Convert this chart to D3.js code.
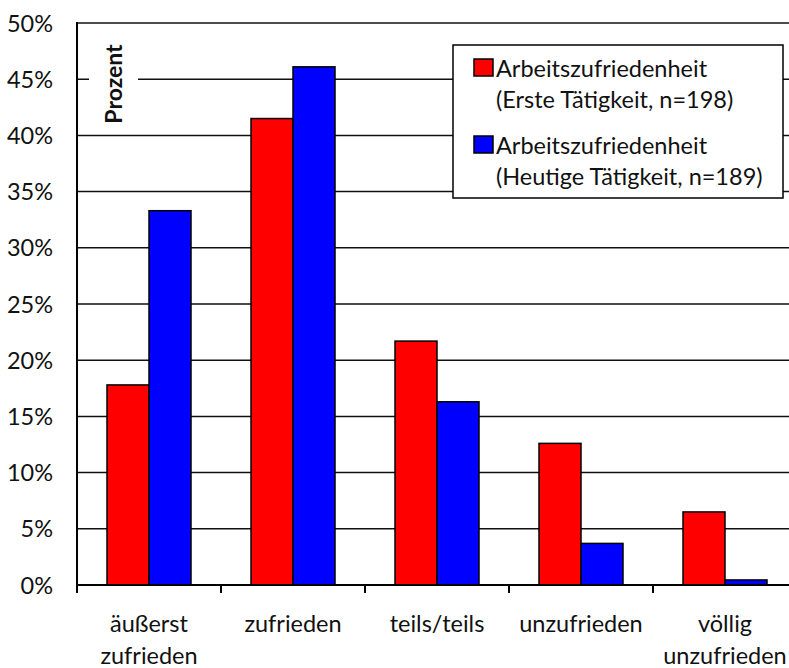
<!DOCTYPE html>
<html><head><meta charset="utf-8">
<script src="https://cdn.jsdelivr.net/npm/d3@7"></script>
<style>body{margin:0;background:#fff}svg{display:block}text{font-family:Lato,"Open Sans",sans-serif;fill:#111}</style>
</head><body><svg id="c" width="789" height="668"></svg>
<script>
const categories = [["äußerst","zufrieden"],["zufrieden"],["teils/teils"],["unzufrieden"],["völlig","unzufrieden"]];
const seriesNames = ["Arbeitszufriedenheit (Erste Tätigkeit, n=198)","Arbeitszufriedenheit (Heutige Tätigkeit, n=189)"];
const seriesColors = ["#ff0000","#0000ff"];
const erste = [17.8, 41.5, 21.7, 12.6, 6.5];
const heutige = [33.3, 46.1, 16.3, 3.7, 0.45];
const yTicks = [0,5,10,15,20,25,30,35,40,45,50];

const FS = "23.5px";
const svg = d3.select("#c");
const L = 77, T = 23, B = 585, bandW = 144;
const catIdx = categories.map((d,i)=>i);
const x0 = d3.scaleBand().domain(catIdx).range([L, L + bandW*categories.length]).padding(0);
const x1 = d3.scaleBand().domain([0,1]).range([30, bandW-30]).padding(0);
const y = d3.scaleLinear().domain([0,50]).range([B, T]);

// gridlines
svg.append("g").selectAll("line").data(yTicks.filter(d=>d>0)).join("line")
  .attr("x1", L).attr("x2", 800).attr("y1", d=>y(d)).attr("y2", d=>y(d))
  .attr("stroke","#111").attr("stroke-width",1.5);

// y labels
svg.append("g").selectAll("text").data(yTicks).join("text")
  .attr("x", 53).attr("y", d=>y(d)+8.5).attr("text-anchor","end")
  .style("font-size",FS).text(d=>d+"%");

// bars
const data = [erste, heutige];
const g = svg.append("g");
catIdx.forEach(i=>{
  data.forEach((arr,s)=>{
    g.append("rect")
      .attr("x", x0(i)+x1(s)).attr("width", x1.bandwidth())
      .attr("y", y(arr[i])).attr("height", B - y(arr[i]))
      .attr("fill", seriesColors[s]).attr("stroke","#000").attr("stroke-width",1.5);
  });
});

// axes
svg.append("line").attr("x1",L).attr("x2",L).attr("y1",T-1).attr("y2",B+8).attr("stroke","#000").attr("stroke-width",2);
svg.append("line").attr("x1",L).attr("x2",800).attr("y1",B).attr("y2",B).attr("stroke","#000").attr("stroke-width",2);
svg.append("g").selectAll("line").data(catIdx.slice(1)).join("line")
  .attr("x1",d=>x0(d)).attr("x2",d=>x0(d)).attr("y1",B).attr("y2",B+8)
  .attr("stroke","#000").attr("stroke-width",2);

// x labels
catIdx.forEach(i=>{
  const t = svg.append("text").attr("text-anchor","middle").style("font-size",FS)
    .attr("x", x0(i)+bandW/2).attr("y", 632);
  categories[i].forEach((line,k)=>{
    t.append("tspan").attr("x", x0(i)+bandW/2).attr("dy", k===0?0:31.5).text(line);
  });
});

// Prozent label with white background
svg.append("rect").attr("x",89).attr("y",38).attr("width",49).attr("height",94).attr("fill","#fff");
svg.append("text").attr("transform","translate(122,84) rotate(-90)").attr("text-anchor","middle")
  .style("font-size","23px").style("font-weight","bold").text("Prozent");

// legend
const lg = svg.append("g");
lg.append("rect").attr("x",453).attr("y",45).attr("width",330).attr("height",153)
  .attr("fill","#fff").attr("stroke","#000").attr("stroke-width",1.5);
const legY = [59, 136];
seriesNames.forEach((name,s)=>{
  lg.append("rect").attr("x",474).attr("y",legY[s]).attr("width",19).attr("height",17)
    .attr("fill",seriesColors[s]).attr("stroke","#000").attr("stroke-width",1.5);
  const parts = [name.slice(0, name.indexOf(" (")), name.slice(name.indexOf(" (")+1)];
  const t = lg.append("text").style("font-size",FS).attr("x",496).attr("y",legY[s]+18);
  parts.forEach((p,k)=>t.append("tspan").attr("x",496).attr("dy",k===0?0:31).text(p));
});
</script></body></html>
